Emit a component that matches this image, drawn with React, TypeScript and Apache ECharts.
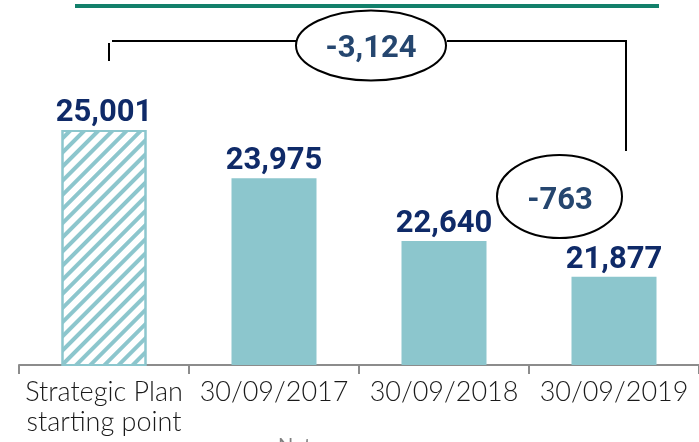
import React, { useEffect, useRef } from "react";
import * as echarts from "echarts";

const categories = ["Strategic Plan\nstarting point", "30/09/2017", "30/09/2018", "30/09/2019"];
const values = [25001, 23975, 22640, 21877];
const yMin = 20000;
const yMax = 27000;

const BAR = "#8cc6cd";
const fmt = (v: number) => v.toLocaleString("en-US");

export default function App() {
  const ref = useRef<HTMLDivElement>(null);
  useEffect(() => {
    if (!ref.current) return;
    const chart = echarts.init(ref.current, null, { renderer: "svg" });
    const diffTotal = values[3] - values[0];
    const diffLast = values[3] - values[2];
    chart.setOption({
      animation: false,
      grid: { left: 19, right: -5, top: 36, bottom: 77, containLabel: false },
      xAxis: {
        type: "category",
        data: categories,
        axisLine: { lineStyle: { color: "#8c8c8c", width: 2 } },
        axisTick: { show: true, length: 9, lineStyle: { color: "#8c8c8c", width: 2 } },
        axisLabel: {
          interval: 0,
          margin: 10,
          color: "#1a1a1a",
          fontFamily: "Lato",
          fontWeight: 300,
          fontSize: 27,
          lineHeight: 30,
        },
      },
      yAxis: {
        type: "value",
        min: yMin,
        max: yMax,
        show: false,
        splitLine: { show: false },
      },
      series: [
        {
          type: "bar",
          barWidth: "50%",
          data: values.map((v, i) =>
            i === 0
              ? {
                  value: v,
                  itemStyle: {
                    color: "#ffffff",
                    borderColor: BAR,
                    borderWidth: 2,
                    decal: {
                      symbol: "rect",
                      symbolSize: 1,
                      dashArrayX: [[1, 0]],
                      dashArrayY: [4, 6],
                      rotation: -Math.PI / 4,
                      color: BAR,
                    },
                  },
                }
              : { value: v, itemStyle: { color: BAR } }
          ),
          label: {
            show: true,
            position: "top",
            distance: 4,
            formatter: (p: any) => fmt(p.value),
            color: "#0f2a68",
            fontFamily: "Roboto",
            fontWeight: "bold",
            fontSize: 31,
          },
        },
      ],
      graphic: [
        { type: "line", shape: { x1: 75, y1: 6, x2: 659, y2: 6 }, style: { stroke: "#13806b", lineWidth: 4 } },
        { type: "line", shape: { x1: 109, y1: 43, x2: 109, y2: 61 }, style: { stroke: "#000", lineWidth: 2 } },
        { type: "line", shape: { x1: 112, y1: 41, x2: 296, y2: 41 }, style: { stroke: "#000", lineWidth: 2 } },
        { type: "ellipse", shape: { cx: 371, cy: 45.5, rx: 75, ry: 35 }, style: { stroke: "#000", lineWidth: 2, fill: "#fff" } },
        {
          type: "text",
          x: 371,
          y: 46,
          style: {
            text: fmt(diffTotal),
            fill: "#25466f",
            fontFamily: "Roboto",
            fontWeight: "bold",
            fontSize: 31,
            align: "center",
            verticalAlign: "middle",
          },
        },
        { type: "polyline", shape: { points: [[447, 41], [626, 41], [626, 151]] }, style: { stroke: "#000", lineWidth: 2, fill: null } },
        { type: "ellipse", shape: { cx: 559.5, cy: 196.5, rx: 62.5, ry: 41.5 }, style: { stroke: "#000", lineWidth: 2, fill: null } },
        {
          type: "text",
          x: 560,
          y: 198,
          style: {
            text: fmt(diffLast),
            fill: "#25466f",
            fontFamily: "Roboto",
            fontWeight: "bold",
            fontSize: 31,
            align: "center",
            verticalAlign: "middle",
          },
        },
        {
          type: "text",
          x: 278,
          y: 434,
          style: { text: "Note:", fill: "#808080", fontFamily: "Lato", fontSize: 20, align: "left", verticalAlign: "top" },
        },
      ],
    });
    return () => chart.dispose();
  }, []);
  return <div ref={ref} style={{ position: "fixed", left: 0, top: 0, width: 699, height: 442 }} />;
}
